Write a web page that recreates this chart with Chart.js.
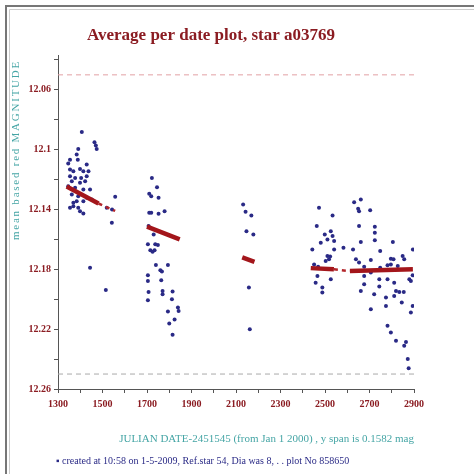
<!DOCTYPE html>
<html lang="en">
<head>
<meta charset="utf-8">
<script src="https://cdn.jsdelivr.net/npm/chart.js"></script>
<style>
    body { margin: 0; background: #fff; }
    .wrap { width: 474px; height: 474px; }
</style>
</head>
<body>
<div class="wrap"><canvas id="magChart" width="474" height="474"></canvas></div>
<script>
// observations, one pair of arrays per observing season (JD-2451545, magnitude)
const season1Dates = [1407,1464,1470,1474,1391,1384,1389,1354,1346,1429,1354,1369,1399,1414,1437,1354,1377,1404,1429,1362,1399,1422,1346,1377,1414,1444,1362,1391,1429,1452,1557,1369,1384,1414,1354,1369,1391,1399,1414,1519,1543,1542,1444,1515];
const season1Mags  = [12.0882,12.0951,12.0973,12.0995,12.0995,12.1033,12.1067,12.1067,12.1093,12.11,12.1133,12.1145,12.1129,12.1145,12.1145,12.1178,12.1189,12.1189,12.1178,12.1211,12.1222,12.1211,12.1245,12.1255,12.1267,12.1267,12.13,12.1311,12.1322,12.1333,12.1315,12.1355,12.1345,12.1345,12.1389,12.1378,12.1389,12.1411,12.1427,12.1389,12.14,12.1489,12.1789,12.1938];

const season2Dates = [1722,1745,1710,1719,1752,1710,1719,1752,1779,1707,1730,1704,1737,1749,1715,1725,1734,1740,1760,1767,1794,1704,1704,1764,1707,1770,1770,1815,1704,1812,1839,1842,1794,1824,1800,1815];
const season2Mags  = [12.1189,12.1251,12.1295,12.1311,12.1322,12.1422,12.1422,12.1429,12.1411,12.1511,12.1567,12.1633,12.1633,12.1638,12.1673,12.1682,12.1673,12.1771,12.1807,12.1815,12.1771,12.184,12.1878,12.1873,12.1951,12.1945,12.1967,12.1949,12.2007,12.2,12.2055,12.2078,12.2082,12.2135,12.2162,12.2238];

const season3Dates = [2132,2143,2169,2147,2178,2158,2162];
const season3Mags  = [12.1367,12.1415,12.144,12.1545,12.1567,12.1922,12.22];

const season4Dates = [2473,2534,2463,2631,2661,2649,2653,2703, 2526,2499,2534,2511,2541, 2481, 2653,2724,2724,2724, 2805,
    2443,2541,2583,2626, 2661, 2748, 2895, 2511,2518,2503,2523, 2639,2653,2706, 2796,2808,2849,2856, 2451,2469,
    2676,2748,2781, 2796,2827, 2466,2526, 2676,2706,2744, 2781,2811,2879,2886,2894, 2458, 2676, 2488,2488,
    2661,2721, 2744, 2819,2834,2854, 2774,2811, 2845, 2706, 2774, 2894,2886, 2781,2796, 2819, 2864,2856, 2872,2876];
const season4Mags  = [12.1389,12.144,12.1511,12.1351,12.1333,12.1395,12.1411,12.1405, 12.1545,12.1567,12.1578,12.16,12.1611, 12.1622, 12.1511,12.1515,12.1555,12.1605, 12.1618,
    12.1667,12.1667,12.1655,12.1667, 12.1618, 12.1678, 12.1667, 12.1711,12.1733,12.1745,12.1715, 12.1733,12.1755,12.1738, 12.1729,12.1733,12.1711,12.1733, 12.1767,12.1782,
    12.1782,12.1789,12.1773, 12.1767,12.1778, 12.1845,12.1867, 12.1845,12.1822,12.1867, 12.1867,12.1889,12.1867,12.1878,12.184, 12.1889, 12.19, 12.1922,12.1955,
    12.1945,12.1967, 12.1915, 12.1945,12.1951,12.1951, 12.1989,12.1978, 12.2022, 12.2067, 12.2045, 12.2045,12.2089, 12.2178,12.2222, 12.2278, 12.2285,12.2311, 12.24,12.2462];

// per-season averages (null = break)
const trendDates = [1339,1482,null,1700,1847,null,2128,2183,null,2436,2540,null,2612,2895];
const trendMags  = [12.1247,12.136,null,12.1515,12.16,null,12.172,12.175,null,12.1792,12.18,null,12.1812,12.18];
const trendDashDates = [1482,1557,null,2540,2612];
const trendDashMags  = [12.136,12.141,null,12.18,12.1812];

const upperLevel = 12.05;
const lowerLevel = 12.25;

const xTickValues = [1300,1400,1500,1600,1700,1800,1900,2000,2100,2200,2300,2400,2500,2600,2700,2800,2900];
const xTickLabels = ['1300','','1500','','1700','','1900','','2100','','2300','','2500','','2700','','2900'];
const yTickValues = [12.04,12.06,12.08,12.1,12.12,12.14,12.16,12.18,12.2,12.22,12.24,12.26];
const yTickLabels = ['','12.06','','12.1','','12.14','','12.18','','12.22','','12.26'];

const darkRed = '#8b1c22';
const teal = '#45a5a5';
const navy = '#2a2a86';

function pairs(xs, ys) {
    const out = [];
    for (let i = 0; i < Math.min(xs.length, ys.length); i++) out.push({ x: xs[i], y: ys[i] });
    return out;
}
function gapPairs(xs, ys) {
    return xs.map((x, i) => (x === null ? { x: NaN, y: null } : { x: x, y: ys[i] }));
}
function labelFor(values, labels, v) {
    const i = values.findIndex(t => Math.abs(t - v) < 1e-6);
    return i < 0 ? '' : labels[i];
}

const obsPoints = [].concat(
    pairs(season1Dates, season1Mags),
    pairs(season2Dates, season2Mags),
    pairs(season3Dates, season3Mags),
    pairs(season4Dates, season4Mags)
);

const framePlugin = {
    id: 'frame',
    beforeDraw(chart) {
        const c = chart.ctx;
        c.save();
        c.fillStyle = '#fff';
        c.fillRect(0, 0, chart.width, chart.height);
        c.strokeStyle = '#777';
        c.lineWidth = 2;
        c.beginPath();
        c.moveTo(6, chart.height); c.lineTo(6, 6); c.lineTo(chart.width, 6);
        c.stroke();
        c.strokeStyle = '#ccc';
        c.lineWidth = 1;
        c.beginPath();
        c.moveTo(9.5, chart.height); c.lineTo(9.5, 9.5); c.lineTo(chart.width, 9.5);
        c.stroke();
        c.restore();
    },
    afterDraw(chart) {
        const c = chart.ctx;
        c.save();
        // y axis title, spread over the upper part of the axis
        const yText = 'mean based red MAGNITUDE';
        c.font = '11px "Liberation Serif", serif';
        c.fillStyle = teal;
        const w = c.measureText(yText).width;
        const span = 180;
        c.letterSpacing = Math.max(0, (span - w) / yText.length) + 'px';
        c.translate(16, 240);
        c.rotate(-Math.PI / 2);
        c.textAlign = 'left';
        c.textBaseline = 'middle';
        c.fillText(yText, 0, 0);
        c.restore();

        c.save();
        c.font = '10px "Liberation Serif", serif';
        c.fillStyle = navy;
        c.textBaseline = 'middle';
        c.fillText('\u25AA created at 10:58 on 1-5-2009, Ref.star 54, Dia was 8, . . plot No 858650', 56, 461);
        c.restore();
    }
};

new Chart(document.getElementById('magChart'), {
    type: 'scatter',
    data: {
        datasets: [
            {
                type: 'line', data: gapPairs(trendDates, trendMags), order: 0,
                borderColor: '#a3161b', borderWidth: 4.5, pointRadius: 0, spanGaps: false, showLine: true
            },
            {
                type: 'line', data: gapPairs(trendDashDates, trendDashMags), order: 0,
                borderColor: '#b3262b', borderWidth: 2.5, borderDash: [4, 4], pointRadius: 0, spanGaps: false, showLine: true
            },
            {
                data: obsPoints, order: 1,
                backgroundColor: navy, borderColor: navy, pointRadius: 2, borderWidth: 0
            },
            {
                type: 'line', data: [{ x: 1300, y: upperLevel }, { x: 2900, y: upperLevel }], order: 2,
                borderColor: '#e2a0a4', borderWidth: 1, borderDash: [5, 4], pointRadius: 0, showLine: true
            },
            {
                type: 'line', data: [{ x: 1300, y: lowerLevel }, { x: 2900, y: lowerLevel }], order: 2,
                borderColor: '#aaaaaa', borderWidth: 1, borderDash: [5, 4], pointRadius: 0, showLine: true
            }
        ]
    },
    options: {
        responsive: false,
        animation: false,
        layout: { padding: { top: 20, left: 8, right: 60, bottom: 25 } },
        plugins: {
            legend: { display: false },
            tooltip: { enabled: false },
            title: {
                display: true,
                text: 'Average per date plot, star a03769',
                color: darkRed,
                font: { family: '"Liberation Serif", serif', size: 17, weight: 'bold' },
                padding: { top: 5, bottom: 10 }
            }
        },
        scales: {
            x: {
                type: 'linear', min: 1300, max: 2900,
                afterFit(scale) { scale.height = 60; },
                afterBuildTicks(scale) { scale.ticks = xTickValues.map(v => ({ value: v })); },
                ticks: {
                    autoSkip: false, maxRotation: 0, minRotation: 0, padding: 5, color: darkRed,
                    font: { family: '"Liberation Serif", serif', size: 10, weight: 'bold' },
                    callback: v => labelFor(xTickValues, xTickLabels, v)
                },
                grid: { drawOnChartArea: false, tickLength: 4, color: '#555' },
                border: { color: '#555', width: 1 },
                title: {
                    display: true, align: 'end', color: teal,
                    text: 'JULIAN DATE-2451545 (from Jan 1 2000) , y span is 0.1582 mag',
                    font: { family: '"Liberation Serif", serif', size: 11 },
                    padding: { top: 0, bottom: 3 }
                }
            },
            y: {
                type: 'linear', min: 12.037, max: 12.26, reverse: true,
                afterFit(scale) { scale.width = 50; },
                afterBuildTicks(scale) { scale.ticks = yTickValues.map(v => ({ value: v })); },
                ticks: {
                    autoSkip: false, padding: 3, color: darkRed,
                    font: { family: '"Liberation Serif", serif', size: 10, weight: 'bold' },
                    callback: v => labelFor(yTickValues, yTickLabels, v)
                },
                grid: { drawOnChartArea: false, tickLength: 4, color: '#555' },
                border: { color: '#555', width: 1 }
            }
        }
    },
    plugins: [framePlugin]
});
</script>
</body>
</html>
